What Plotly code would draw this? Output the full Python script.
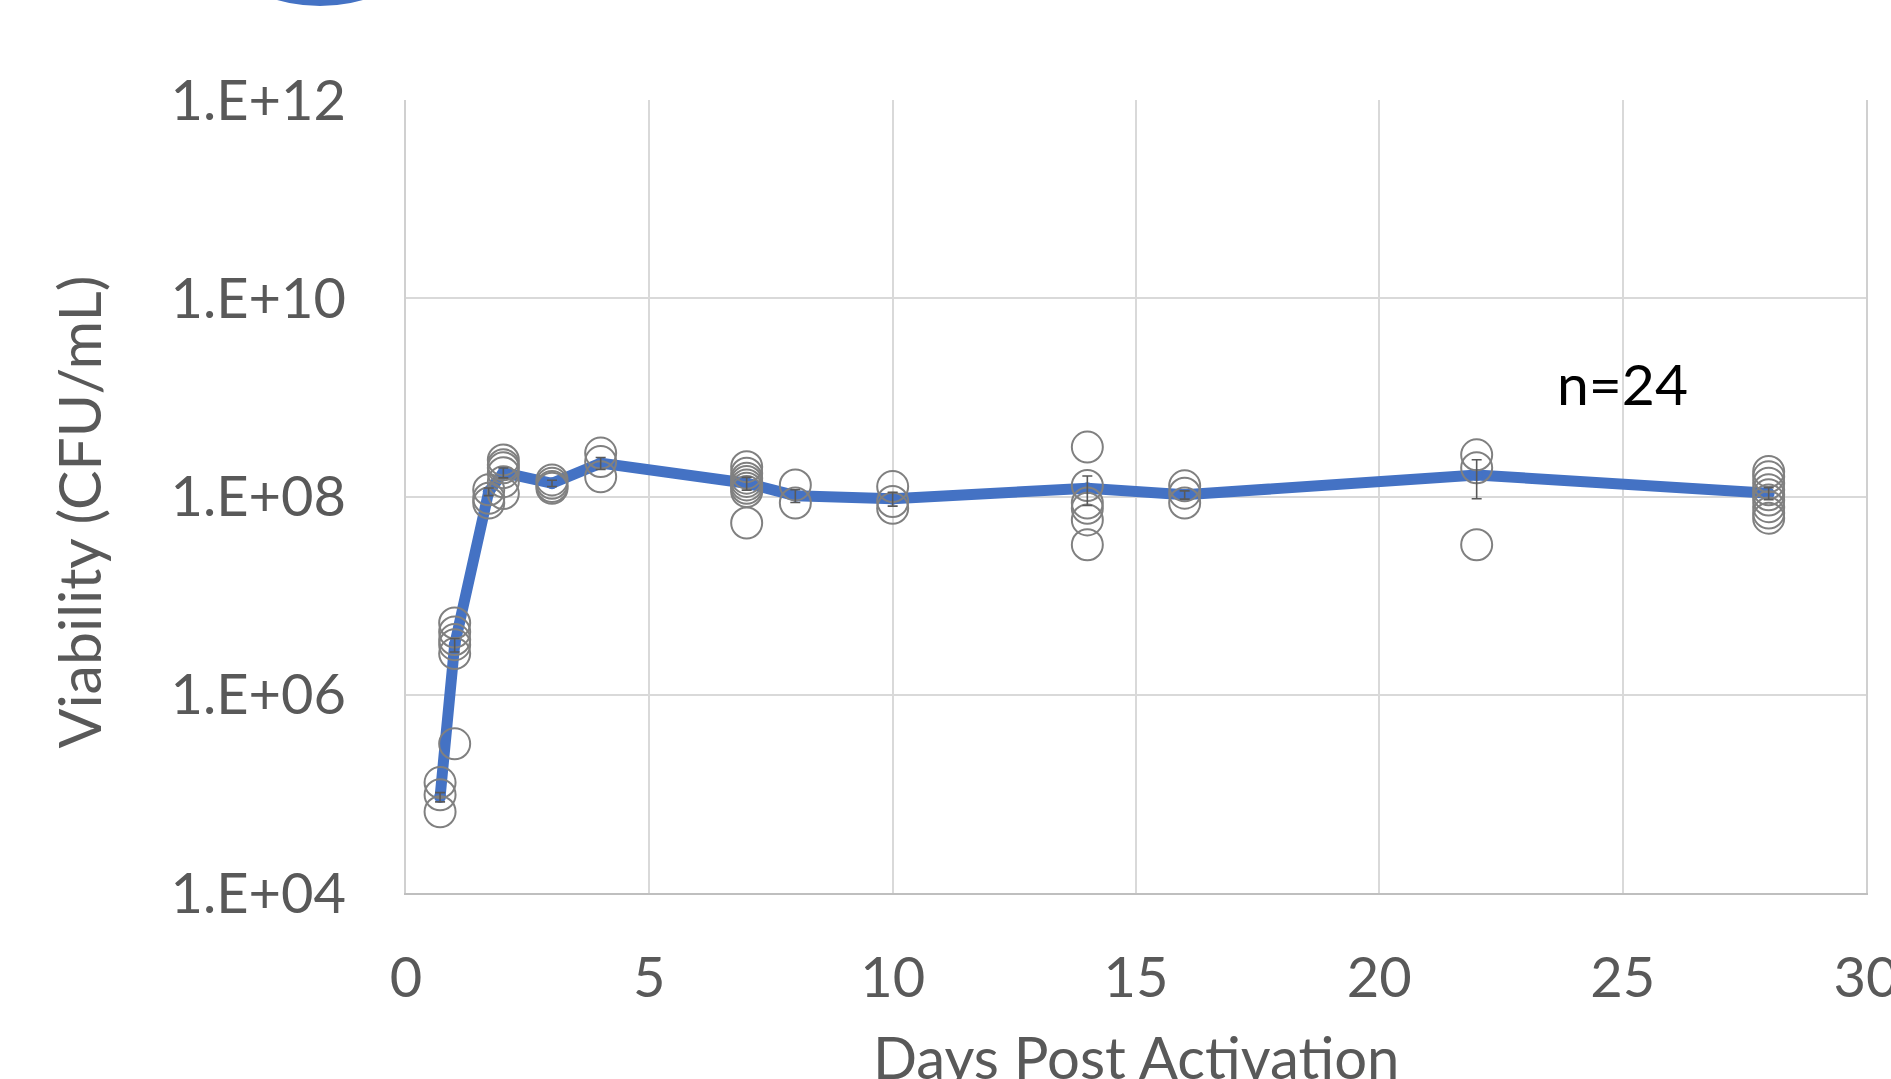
import math
import plotly.graph_objects as go

# Mean viability per time point (line)
mean_days = [0.7, 1, 1.7, 2, 3, 4, 7, 8, 10, 14, 16, 22, 28]
mean_vals = [9.3e4, 3.2e6, 1.12e8, 1.74e8, 1.36e8, 2.17e8, 1.36e8, 1.02e8,
             9.5e7, 1.21e8, 1.04e8, 1.65e8, 1.08e8]
mean_err = [1e4, 5e5, 1e7, 2e7, 1e7, 3e7, 2e7, 1.5e7, 1.5e7, 4e7, 1e7, 7e7, 1.5e7]

# Individual replicate measurements (open circles)
rep_days = ([0.7] * 3 + [1] * 6 + [1.7] * 3 + [2] * 6 + [3] * 4 + [4] * 3 +
            [7] * 8 + [8] * 2 + [10] * 3 + [14] * 6 + [16] * 3 + [22] * 3 + [28] * 9)
rep_vals = [1.30e5, 9.8e4, 6.6e4,
            3.2e5, 5.3e6, 4.3e6, 3.6e6, 3.2e6, 2.6e6,
            1.17e8, 9.6e7, 8.6e7,
            2.34e8, 2.09e8, 1.95e8, 1.74e8, 1.41e8, 1.07e8,
            1.47e8, 1.36e8, 1.26e8, 1.21e8,
            2.74e8, 2.25e8, 1.58e8,
            2.0e8, 1.72e8, 1.53e8, 1.42e8, 1.31e8, 1.21e8, 1.12e8, 5.4e7,
            1.31e8, 8.6e7,
            1.26e8, 8.9e7, 7.6e7,
            3.15e8, 1.29e8, 8.6e7, 7.6e7, 5.8e7, 3.26e7,
            1.28e8, 1.08e8, 8.6e7,
            2.63e8, 1.95e8, 3.26e7,
            1.79e8, 1.58e8, 1.36e8, 1.17e8, 1.04e8, 9.2e7, 7.9e7, 6.8e7, 6.05e7]

y_tickvals = [1e4, 1e6, 1e8, 1e10, 1e12]
y_ticktext = ["1.E+04", "1.E+06", "1.E+08", "1.E+10", "1.E+12"]
x_tickvals = [0, 5, 10, 15, 20, 25, 30]

annot_text = "n=24"
annot_x, annot_y = 25, 1.41e9
y_title = "Viability (CFU/mL)"
x_title = "Days Post Activation"

FONT = "Lato"
TICK_COLOR = "#595959"
BLUE = "#4472C4"

fig = go.Figure()

fig.add_trace(go.Scatter(
    x=mean_days, y=mean_vals, mode="lines+markers",
    line=dict(color=BLUE, width=11, shape="linear"),
    marker=dict(color=BLUE, size=12),
    showlegend=False, hoverinfo="skip",
))

fig.add_trace(go.Scatter(
    x=rep_days, y=rep_vals, mode="markers",
    marker=dict(symbol="circle-open", size=31, color="#808080",
                line=dict(color="#808080", width=2)),
    showlegend=False,
))

fig.add_trace(go.Scatter(
    x=mean_days, y=mean_vals, mode="markers",
    marker=dict(size=1, color="rgba(0,0,0,0)"),
    error_y=dict(type="data", array=mean_err, visible=True,
                 color="#595959", thickness=1.6, width=5),
    showlegend=False, hoverinfo="skip",
))

L, R, T, B = 406, 25, 100, 186
W, H = 1891, 1079
pw, ph = W - L - R, H - T - B

def px_x(px):
    return (px - L) / pw

def px_y(py):
    return (H - B - py) / ph

fig.add_shape(type="circle", xref="paper", yref="paper",
              x0=px_x(163), x1=px_x(477), y0=px_y(6), y1=px_y(-308),
              fillcolor=BLUE, line=dict(width=0), layer="above")

fig.add_annotation(x=annot_x, y=math.log10(annot_y), yref="y", xref="x",
                   text=annot_text, showarrow=False,
                   font=dict(family=FONT, size=57, color="#000000"))

# y-axis title placed as rotated annotation (offset slightly below centre as in reference)
fig.add_annotation(x=0, y=0.5, xref="paper", yref="paper",
                   xanchor="center", yanchor="middle",
                   xshift=-(L - 78), yshift=-16, textangle=-90,
                   text=y_title, showarrow=False,
                   font=dict(family=FONT, size=59, color=TICK_COLOR))

# x-axis title as annotation below the tick labels
fig.add_annotation(x=0.5, y=0, xref="paper", yref="paper",
                   xanchor="center", yanchor="top",
                   yshift=-127, text=x_title, showarrow=False,
                   font=dict(family=FONT, size=58, color=TICK_COLOR))

fig.update_layout(
    width=W, height=H,
    margin=dict(l=L, r=R, t=T, b=B, autoexpand=False),
    paper_bgcolor="white", plot_bgcolor="white",
    font=dict(family=FONT, color=TICK_COLOR),
)

fig.update_xaxes(
    range=[0, 30], tickvals=x_tickvals, ticks="", ticklabelstandoff=35,
    ticklabeloverflow="allow",
    tickfont=dict(family=FONT, size=56, color=TICK_COLOR),
    showgrid=True, gridcolor="#D9D9D9", gridwidth=1.5,
    showline=True, linecolor="#BFBFBF", linewidth=2, mirror=False,
    zeroline=False,
)

fig.update_yaxes(
    type="log", range=[4, 12], tickvals=y_tickvals, ticktext=y_ticktext,
    ticks="", ticklabelstandoff=47, ticklabeloverflow="allow",
    tickfont=dict(family=FONT, size=56, color=TICK_COLOR),
    showgrid=True, gridcolor="#D9D9D9", gridwidth=1.5,
    showline=True, linecolor="#D0D0D0", linewidth=1.5, mirror=True,
    zeroline=False,
)

fig.write_html("out.html",
               config={"displayModeBar": False},
               post_script="document.body.style.margin='0';document.body.style.overflow='hidden';")
